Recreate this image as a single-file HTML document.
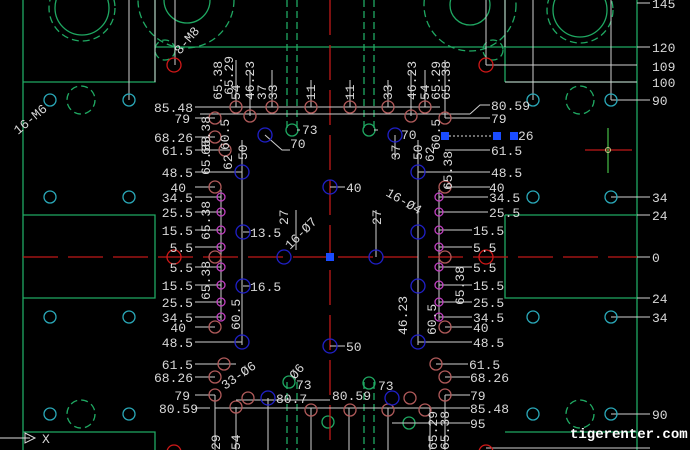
<!DOCTYPE html>
<html><head><meta charset="utf-8"><style>
html,body{margin:0;padding:0;background:#000;width:690px;height:450px;overflow:hidden}
svg{display:block}
text{font-family:"Liberation Mono","DejaVu Sans Mono",monospace;font-size:13px;fill:#d8d8d8}
</style></head><body>
<svg width="690" height="450" viewBox="0 0 690 450" xmlns="http://www.w3.org/2000/svg">
<rect width="690" height="450" fill="#000"/>
<g stroke="#1fa862" stroke-width="1.3" fill="none">
<path d="M23 0V450M155 0V82H23M23 215H155V298H23M23 432H155V450"/>
<path d="M155 47H637M637 0V450M505 82V0M505 82H637M505 215H637M505 215V298H637M505 432H637V450"/>
<circle cx="82" cy="8" r="27"/><circle cx="187" cy="0" r="23"/><circle cx="470" cy="5" r="20"/><circle cx="580" cy="10" r="27"/>
</g>
<g stroke="#1fa862" stroke-width="1.3" fill="none" stroke-dasharray="7 4">
<circle cx="82" cy="8" r="33"/><circle cx="186" cy="0" r="48"/><circle cx="470" cy="5" r="46"/><circle cx="580" cy="10" r="33"/>
<circle cx="81" cy="100" r="14"/><circle cx="81" cy="414" r="14"/><circle cx="580" cy="100" r="14"/><circle cx="580" cy="414" r="14"/>
<circle cx="165" cy="50" r="10"/><circle cx="493" cy="50" r="10"/>
<path d="M287 0V130M297 0V130M364 0V130M374 0V130M287 382V450M297 382V450M364 382V450M374 382V450"/>
</g>
<g stroke="#1fa862" stroke-width="1.3" fill="none">
<circle cx="292" cy="130" r="6"/><circle cx="369" cy="130" r="6"/><circle cx="289" cy="382" r="6"/><circle cx="369" cy="383" r="6"/><circle cx="328" cy="422" r="6"/><circle cx="409" cy="423" r="6"/>
</g>
<g stroke="#c01818" stroke-width="1.3" stroke-dasharray="35 10">
<path d="M23 257H637"/><path d="M330 0V450"/>
</g>
<g stroke="#cfcfcf" stroke-width="1" fill="none">
<path d="M155 0V82M129 0V100M175 0V65M486 0V65M505 0V47M533 0V100M611 0V100"/>
<path d="M486 65H637M505 82H637M611 100H650M611 197H650M611 317H650M611 414H650M637 47H650M637 215H650M637 298H650M637 257H650M637 3H650M486 448H650"/>
<path d="M195 107H440M195 118H215M200 114H470M195 137H215M195 150H230M195 172H242M195 187H215M195 197H221M195 212H221M195 230H221M195 247H221M195 267H221M195 285H221M195 302H221M195 317H221M195 327H215M195 342H242M195 364H236M195 377H215M195 395H215M195 408H210"/>
<path d="M470 114L480 105H490M445 118H490M445 150H490M418 172H490M445 187H490M439 197H488M439 212H488M439 230H472M439 247H472M439 267H472M439 285H472M439 302H472M439 317H472M445 327H472M418 342H472M436 364H468M445 377H470M445 395H470M215 408H470M236 400H330M392 423H470"/>
<path d="M221 190V320M439 190V320M242 140V345M418 140V345M215 395V450M236 407V450M268 398V450M311 408V450M349 408V450M388 408V450M430 408V450M445 395V450"/>
<path d="M236 60V107M250 70V116M272 70V107M311 80V107M350 80V107M388 80V107M411 70V116M425 70V107M445 60V118"/>
<path d="M243 232H250M243 286H250M330 187H345M330 346H345M265 135L282 150H290M395 135V160M297 130H300M374 130H378M376 210V257M296 210V250"/>
</g>
<g fill="none" stroke-width="1.3">
<g stroke="#2aa8b8"><circle cx="50" cy="100" r="6"/><circle cx="129" cy="100" r="6"/><circle cx="50" cy="197" r="6"/><circle cx="129" cy="197" r="6"/><circle cx="50" cy="317" r="6"/><circle cx="129" cy="317" r="6"/><circle cx="50" cy="414" r="6"/><circle cx="129" cy="414" r="6"/>
<circle cx="533" cy="100" r="6"/><circle cx="611" cy="100" r="6"/><circle cx="533" cy="197" r="6"/><circle cx="611" cy="197" r="6"/><circle cx="533" cy="317" r="6"/><circle cx="611" cy="317" r="6"/><circle cx="533" cy="414" r="6"/><circle cx="611" cy="414" r="6"/></g>
<g stroke="#d01818"><circle cx="174" cy="65" r="7"/><circle cx="486" cy="65" r="7"/><circle cx="174" cy="257" r="7"/><circle cx="486" cy="257" r="7"/><circle cx="174" cy="452" r="7"/><circle cx="486" cy="452" r="7"/></g>
<g stroke="#b05a5a"><circle cx="236" cy="107" r="6"/><circle cx="272" cy="107" r="6"/><circle cx="311" cy="107" r="6"/><circle cx="350" cy="107" r="6"/><circle cx="388" cy="107" r="6"/><circle cx="425" cy="107" r="6"/>
<circle cx="215" cy="118" r="6"/><circle cx="250" cy="116" r="6"/><circle cx="411" cy="116" r="6"/><circle cx="445" cy="118" r="6"/>
<circle cx="215" cy="137" r="6"/><circle cx="225" cy="150" r="6"/><circle cx="215" cy="187" r="6"/><circle cx="445" cy="187" r="6"/><circle cx="215" cy="257" r="6"/><circle cx="445" cy="257" r="6"/><circle cx="215" cy="327" r="6"/><circle cx="445" cy="327" r="6"/>
<circle cx="224" cy="364" r="6"/><circle cx="436" cy="364" r="6"/><circle cx="215" cy="377" r="6"/><circle cx="445" cy="377" r="6"/><circle cx="215" cy="395" r="6"/><circle cx="445" cy="395" r="6"/>
<circle cx="248" cy="398" r="6"/><circle cx="236" cy="407" r="6"/><circle cx="311" cy="410" r="6"/><circle cx="350" cy="410" r="6"/><circle cx="388" cy="410" r="6"/><circle cx="425" cy="410" r="6"/><circle cx="410" cy="398" r="6"/></g>
<g stroke="#c040c0"><circle cx="221" cy="197" r="4"/><circle cx="221" cy="212" r="4"/><circle cx="221" cy="230" r="4"/><circle cx="221" cy="247" r="4"/><circle cx="221" cy="267" r="4"/><circle cx="221" cy="285" r="4"/><circle cx="221" cy="302" r="4"/><circle cx="221" cy="317" r="4"/>
<circle cx="439" cy="197" r="4"/><circle cx="439" cy="212" r="4"/><circle cx="439" cy="230" r="4"/><circle cx="439" cy="247" r="4"/><circle cx="439" cy="267" r="4"/><circle cx="439" cy="285" r="4"/><circle cx="439" cy="302" r="4"/><circle cx="439" cy="317" r="4"/></g>
<g stroke="#2020c8"><circle cx="242" cy="172" r="7"/><circle cx="242" cy="342" r="7"/><circle cx="418" cy="172" r="7"/><circle cx="418" cy="342" r="7"/><circle cx="330" cy="187" r="7"/><circle cx="330" cy="346" r="7"/><circle cx="243" cy="232" r="7"/><circle cx="243" cy="286" r="7"/><circle cx="418" cy="232" r="7"/><circle cx="418" cy="286" r="7"/><circle cx="284" cy="257" r="7"/><circle cx="376" cy="257" r="7"/><circle cx="265" cy="135" r="7"/><circle cx="395" cy="135" r="7"/><circle cx="268" cy="398" r="7"/><circle cx="392" cy="398" r="7"/></g>
</g>
<rect x="326" y="253" width="8" height="8" fill="#1a4cff"/>
<rect x="441" y="132" width="8" height="8" fill="#1a4cff"/><rect x="493" y="132" width="8" height="8" fill="#1a4cff"/><rect x="510" y="132" width="8" height="8" fill="#1a4cff"/>
<path d="M449 136H493" stroke="#ddd" stroke-dasharray="2 2"/>
<path d="M585 150H632" stroke="#c01818" stroke-width="1.3"/><path d="M608 128V173" stroke="#40b040" stroke-width="1.3"/><circle cx="608" cy="150" r="2.5" fill="none" stroke="#cc8"/>
<path d="M0 438H30M25 433L35 438L25 443Z" stroke="#ddd" fill="none"/>
<text x="652" y="8">145</text><text x="652" y="52">120</text><text x="652" y="71">109</text><text x="652" y="87">100</text><text x="652" y="105">90</text><text x="652" y="202">34</text><text x="652" y="220">24</text><text x="652" y="262">0</text><text x="652" y="303">24</text><text x="652" y="322">34</text><text x="652" y="419">90</text>
<g text-anchor="end">
<text x="193" y="112">85.48</text><text x="190" y="123">79</text><text x="193" y="142">68.26</text><text x="193" y="155">61.5</text><text x="193" y="177">48.5</text><text x="186" y="192">40</text><text x="193" y="202">34.5</text><text x="193" y="217">25.5</text><text x="193" y="235">15.5</text><text x="193" y="252">5.5</text><text x="193" y="272">5.5</text><text x="193" y="290">15.5</text><text x="193" y="307">25.5</text><text x="193" y="322">34.5</text><text x="186" y="332">40</text><text x="193" y="347">48.5</text><text x="193" y="369">61.5</text><text x="193" y="382">68.26</text><text x="190" y="400">79</text><text x="198" y="413">80.59</text>
</g>
<g>
<text x="491" y="110">80.59</text><text x="491" y="123">79</text><text x="491" y="155">61.5</text><text x="491" y="177">48.5</text><text x="489" y="192">40</text><text x="489" y="202">34.5</text><text x="489" y="217">25.5</text><text x="473" y="235">15.5</text><text x="473" y="252">5.5</text><text x="473" y="272">5.5</text><text x="473" y="290">15.5</text><text x="473" y="307">25.5</text><text x="473" y="322">34.5</text><text x="473" y="332">40</text><text x="473" y="347">48.5</text><text x="469" y="369">61.5</text><text x="470" y="382">68.26</text><text x="470" y="400">79</text><text x="470" y="413">85.48</text><text x="470" y="428">95</text>
<text x="346" y="192">40</text><text x="346" y="351">50</text><text x="250" y="237">13.5</text><text x="250" y="291">16.5</text><text x="302" y="134">73</text><text x="290" y="148">70</text><text x="401" y="139">70</text><text x="296" y="389">73</text><text x="378" y="390">73</text><text x="276" y="403">80.7</text><text x="332" y="400">80.59</text><text x="518" y="140">26</text>
<text x="570" y="438" style="font-weight:bold;fill:#fff;font-size:14px">tigerenter.com</text>
<text x="42" y="443">X</text>
</g>
<g>
<text transform="translate(222,100) rotate(-90)">65.38</text><text transform="translate(233,95) rotate(-90)">65.29</text><text transform="translate(240,100) rotate(-90)">54</text><text transform="translate(254,100) rotate(-90)">46.23</text><text transform="translate(266,100) rotate(-90)">37</text><text transform="translate(277,100) rotate(-90)">33</text><text transform="translate(315,100) rotate(-90)">11</text><text transform="translate(354,100) rotate(-90)">11</text><text transform="translate(392,100) rotate(-90)">33</text><text transform="translate(416,100) rotate(-90)">46.23</text><text transform="translate(429,100) rotate(-90)">54</text><text transform="translate(440,100) rotate(-90)">65.29</text><text transform="translate(450,100) rotate(-90)">65.38</text>
<text transform="translate(210,175) rotate(-90)">65.38</text><text transform="translate(229,150) rotate(-90)">60.5</text><text transform="translate(210,155) rotate(-90)">65.38</text><text transform="translate(232,170) rotate(-90)">62</text><text transform="translate(247,160) rotate(-90)">50</text><text transform="translate(210,240) rotate(-90)">65.38</text><text transform="translate(210,300) rotate(-90)">65.38</text><text transform="translate(240,330) rotate(-90)">60.5</text>
<text transform="translate(288,225) rotate(-90)">27</text><text transform="translate(381,225) rotate(-90)">27</text><text transform="translate(400,160) rotate(-90)">37</text><text transform="translate(422,160) rotate(-90)">50</text><text transform="translate(434,162) rotate(-90)">62</text><text transform="translate(452,190) rotate(-90)">65.38</text><text transform="translate(440,150) rotate(-90)">60.5</text><text transform="translate(464,305) rotate(-90)">65.38</text><text transform="translate(436,335) rotate(-90)">60.5</text><text transform="translate(407,335) rotate(-90)">46.23</text>
<text transform="translate(220,450) rotate(-90)">29</text><text transform="translate(240,450) rotate(-90)">54</text><text transform="translate(437,450) rotate(-90)">65.29</text><text transform="translate(449,450) rotate(-90)">65.38</text>
<text transform="translate(18,135) rotate(-40)">16-M6</text><text transform="translate(180,55) rotate(-50)">8-M8</text><text transform="translate(290,250) rotate(-45)">16-Ø7</text><text transform="translate(385,195) rotate(30)">16-Ø4</text><text transform="translate(225,390) rotate(-35)">33-Ø6</text><text transform="translate(295,380) rotate(-50)">Ø6</text>
</g>
</svg>
</body></html>
